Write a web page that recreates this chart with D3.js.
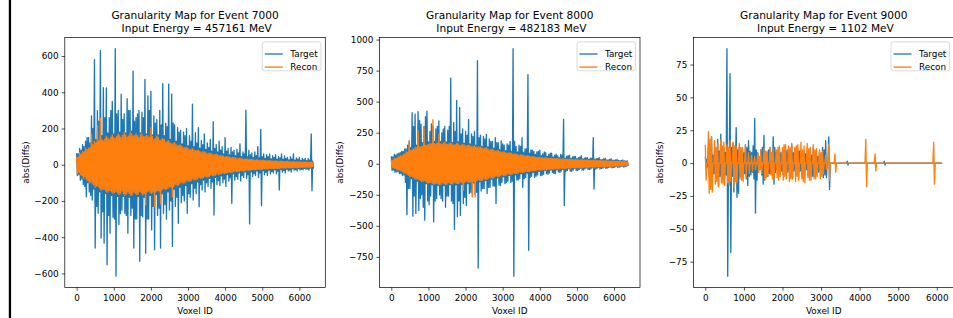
<!DOCTYPE html>
<html>
<head>
<meta charset="utf-8">
<script src="https://cdn.jsdelivr.net/npm/d3@7"></script>
<style>
  body { margin: 0; background: #fff; }
  text { font-family: "DejaVu Sans", sans-serif; }
</style>
</head>
<body>
<svg id="fig" width="953" height="318"></svg>
<script>
const eventIds = ["7000", "8000", "9000"];
const inputEnergies = ["457161", "482183", "1102"];
const seriesNames = ["Target", "Recon"];
const xTicks = [0, 1000, 2000, 3000, 4000, 5000, 6000];
const yTicks7000 = [-600, -400, -200, 0, 200, 400, 600];
const yTicks8000 = [-750, -500, -250, 0, 250, 500, 750, 1000];
const yTicks9000 = [-75, -50, -25, 0, 25, 50, 75];

// Readings per 80-voxel bin: a high and a low value in the first half (A)
// and a second high/low pair in the other half of the bin (B).

// ---- Event 7000
const ev7000TargetHi = [65,90,110,130,150,270,580,298,630,425, 424,260,350,640,300,389,280,365,300,517,
  260,300,290,471,380,405,270,250,300,447, 230,445,389,220,205,190,180,200,160,334,
  177,205,133,170,120,140,237,110,130,100, 150,90,95,80,85,115,70,301,80,65,
  70,100,195,60,55,60,50,55,45,60, 48,40,45,60,38,40,35,35,35,170];
const ev7000TargetLo = [-60,-85,-110,-177,-150,-195,-460,-268,-405,-433, -552,-378,-290,-615,-330,-250,-268,-378,-280,-460,
  -300,-533,-288,-488,-300,-360,-470,-280,-460,-268, -300,-250,-451,-230,-323,-210,-200,-268,-180,-195,
  -160,-232,-140,-150,-120,-130,-278,-110,-115,-100, -120,-90,-213,-85,-80,-90,-70,-75,-327,-65,
  -60,-70,-226,-55,-60,-50,-45,-50,-140,-40, -45,-35,-40,-30,-35,-30,-28,-25,-30,-144];
const ev7000TargetHiB = [60,80,100,150,120,200,140,240,160,260, 175,300,170,280,180,250,175,300,185,240,
  280,175,260,170,300,165,230,165,220,160, 210,140,230,130,180,115,160,105,130,100,
  120,92,110,85,95,75,90,70,80,60, 75,55,70,50,65,45,60,45,55,40,
  50,38,45,35,45,32,40,30,38,30, 35,27,32,25,30,24,28,22,26,20];
const ev7000TargetLoB = [-55,-80,-120,-100,-170,-135,-230,-150,-260,-160, -280,-170,-300,-175,-270,-175,-280,-180,-240,-300,
  -175,-280,-180,-300,-170,-230,-165,-240,-160,-220, -150,-200,-135,-180,-125,-170,-115,-160,-105,-130,
  -95,-110,-85,-100,-75,-95,-70,-88,-62,-80, -55,-72,-50,-66,-45,-60,-40,-55,-38,-50,
  -35,-46,-32,-42,-30,-38,-28,-36,-26,-33, -25,-30,-23,-28,-22,-26,-20,-24,-18,-22];
const ev7000ReconHi = [45,66,72,92,90,170,130,215,255,132, 158,140,165,145,170,150,178,152,180,158,
  172,150,170,155,160,205,140,158,135,145, 125,132,115,122,104,108,92,96,82,88,
  76,80,66,72,60,64,54,58,48,50, 42,45,38,40,34,36,30,32,28,30,
  25,27,23,25,21,23,19,21,18,20, 17,19,16,17,15,16,14,15,13,14];
const ev7000ReconLo = [-50,-55,-76,-80,-102,-105,-125,-120,-142,-135, -152,-142,-158,-148,-165,-145,-168,-150,-170,-152,
  -165,-148,-168,-223,-145,-158,-232,-142,-215,-130, -135,-122,-177,-108,-112,-96,-100,-86,-90,-78,
  -82,-70,-74,-62,-66,-56,-60,-50,-52,-44, -46,-40,-42,-35,-37,-32,-34,-29,-30,-27,
  -28,-24,-25,-22,-23,-20,-21,-19,-20,-17, -18,-16,-17,-15,-16,-14,-15,-13,-14,-12];
const ev7000ReconHiB = [40,58,70,85,96,110,120,132,138,142, 148,152,150,158,160,162,165,158,170,162,
  160,165,155,162,150,156,145,150,138,140, 128,120,118,110,106,100,95,90,85,82,
  78,74,70,66,62,60,56,54,50,47, 44,42,40,37,35,34,31,30,28,27,
  26,25,24,23,22,21,20,19,19,18, 18,17,16,16,15,15,14,14,13,13];
const ev7000ReconLoB = [-42,-60,-68,-88,-95,-112,-118,-130,-135,-145, -145,-150,-152,-155,-158,-160,-162,-160,-165,-158,
  -162,-155,-160,-150,-155,-150,-148,-145,-140,-135, -130,-125,-120,-112,-106,-102,-96,-92,-86,-84,
  -78,-75,-70,-68,-63,-60,-57,-54,-50,-48, -45,-43,-40,-38,-36,-34,-32,-30,-29,-28,
  -27,-26,-25,-24,-22,-21,-20,-20,-19,-18, -17,-17,-16,-15,-15,-14,-14,-13,-13,-12];

// ---- Event 8000
const ev8000TargetHi = [60,75,80,90,100,120,180,411,400,419, 318,300,424,260,300,280,344,250,300,270,
  690,330,510,451,280,260,357,240,260,830, 230,220,237,200,180,210,170,184,150,160,
  180,926,140,150,210,120,718,110,100,95, 110,80,90,75,85,70,65,75,358,60,
  70,55,60,50,65,45,50,45,211,40, 50,35,45,30,40,28,35,25,30,22];
const ev8000TargetLo = [-55,-70,-65,-80,-90,-410,-200,-422,-400,-376, -250,-454,-300,-260,-467,-280,-250,-300,-350,-260,
  -300,-528,-427,-416,-320,-336,-240,-243,-250,-840, -220,-200,-240,-190,-180,-320,-170,-150,-160,-140,
  -150,-905,-130,-120,-190,-110,-697,-100,-110,-90, -95,-85,-80,-75,-70,-80,-65,-60,-336,-55,
  -60,-50,-55,-45,-50,-40,-45,-40,-203,-38, -42,-35,-38,-30,-32,-28,-30,-24,-26,-20];
const ev8000TargetHiB = [55,70,85,100,120,150,130,300,150,350, 170,380,175,320,180,300,180,280,175,300,
  170,260,175,240,165,230,160,220,150,210, 140,200,135,180,125,170,115,160,105,150,
  100,180,95,140,90,120,85,110,75,100, 65,95,60,85,55,78,50,70,45,65,
  42,60,40,55,38,50,36,46,34,42, 32,38,30,34,28,30,26,26,22,22];
const ev8000TargetLoB = [-50,-65,-80,-95,-150,-200,-120,-260,-140,-280, -350,-160,-330,-170,-300,-175,-280,-175,-260,-170,
  -320,-170,-300,-165,-270,-160,-230,-155,-230,-145, -200,-135,-190,-125,-180,-115,-175,-105,-150,-95,
  -140,-90,-130,-80,-120,-75,-110,-70,-100,-62, -95,-55,-85,-50,-78,-48,-70,-44,-65,-40,
  -60,-38,-55,-35,-50,-33,-46,-31,-42,-29, -38,-27,-34,-25,-30,-22,-27,-20,-24,-18];
const ev8000ReconHi = [32,44,50,68,76,97,187,112,132,267, 138,294,150,164,355,160,240,158,172,155,
  166,150,164,148,156,142,150,136,144,130, 134,120,128,110,116,100,106,92,96,84,
  90,78,80,68,72,62,66,56,58,50, 52,46,49,43,45,40,42,36,39,34,
  36,32,34,30,32,28,30,26,28,24, 26,23,24,21,22,19,20,17,18,15];
const ev8000ReconLo = [-30,-38,-52,-58,-76,-85,-106,-108,-126,-128, -144,-135,-155,-150,-165,-155,-166,-152,-168,-150,
  -162,-148,-160,-145,-213,-140,-150,-267,-267,-128, -134,-118,-126,-108,-114,-98,-104,-88,-94,-80,
  -88,-74,-78,-64,-70,-60,-64,-54,-57,-48, -51,-45,-48,-42,-44,-39,-41,-35,-38,-33,
  -35,-31,-33,-29,-31,-27,-29,-25,-27,-23, -25,-22,-23,-20,-21,-18,-19,-16,-17,-14];
const ev8000ReconHiB = [28,40,55,62,80,92,108,118,128,135, 142,148,155,160,162,166,160,165,158,162,
  158,155,160,150,152,146,145,140,138,135, 128,125,120,115,110,104,100,95,90,86,
  84,80,74,72,68,64,60,58,54,52, 50,48,46,44,42,41,39,38,36,35,
  34,33,32,31,30,29,28,27,26,25, 24,23,22,21,20,19,18,17,16,15];
const ev8000ReconLoB = [-32,-42,-50,-64,-74,-92,-100,-116,-122,-134, -140,-150,-152,-158,-160,-162,-165,-160,-162,-158,
  -160,-156,-158,-152,-150,-148,-144,-142,-136,-134, -130,-124,-118,-114,-108,-104,-98,-94,-90,-85,
  -82,-78,-75,-70,-67,-64,-61,-57,-55,-52, -49,-47,-46,-44,-43,-41,-40,-38,-37,-35,
  -34,-33,-32,-31,-30,-29,-28,-27,-26,-25, -24,-23,-22,-21,-20,-19,-18,-17,-16,-15];

// ---- Event 9000 (sparse; flat zero after ~3300 apart from a few spikes)
const ev9000TargetHi = [5,12,20,10,18,22,12,87,68,15, 27,12,10,14,17,8,34,8,10,21,
  8,12,20,8,10,6,9,7,14,8, 10,6,9,7,8,12,6,8,12,17,
  20,0,0,0,0,0,1.5,0,0,0, 0,0,0,0,0,0,0,0,1.5,0,
  0,0,0,0,0,0,0,0,0,0, 0,0,0,0,0,0,0];
const ev9000TargetLo = [-4,-10,-13,-8,-17,-14,-10,-86,-68,-22, -26,-10,-9,-12,-10,-7,-38,-6,-9,-13,
  -10,-8,-16,-5,-8,-9,-7,-6,-10,-6, -7,-8,-6,-9,-5,-10,-5,-6,-11,-11,
  -20,0,0,0,0,0,-1.5,0,0,0, 0,0,0,0,0,0,0,0,-1.5,0,
  0,0,0,0,0,0,0,0,0,0, 0,0,0,0,0,0,0];
const ev9000TargetHiB = [3,0,6,0,9,0,8,0,12,0, 10,0,8,12,9,13,10,0,12,0,
  10,0,12,0,8,0,10,0,8,0, 9,0,7,0,6,0,5,0,10,0,
  0,0,0,0,0,0,0,0,0,0, 0,0,0,0,0,0,0,0,0,0,
  0,0,0,0,0,0,0,0,0,0, 0,0,0,0,0,0,0];
const ev9000TargetLoB = [-3,0,-8,0,-10,0,-9,0,-10,0, -23,0,-8,-17,-9,-12,-13,0,-16,0,
  -8,0,-7,0,-6,0,-7,0,-6,0, -6,0,-5,0,-10,0,-7,0,-9,0,
  0,0,0,0,0,0,0,0,0,0, 0,0,0,0,0,0,0,0,0,0,
  0,0,0,0,0,0,0,0,0,0, 0,0,0,0,0,0,0];
const ev9000ReconHi = [14,24,20,17,15,18,16,14,17,16, 13,15,12,14,8,6,5,7,10,11,
  9,12,11,10,13,12,14,13,15,12, 14,16,13,15,12,14,11,10,9,6,
  14,0,7,0,0,0,0,0,0,0, 0,0,18,0,0,7,0,0,0,0,
  0,0,0,0,0,0,0,0,0,0, 0,0,0,0,16,0,0];
const ev9000ReconLo = [-13,-23,-22,-16,-18,-15,-17,-15,-14,-18, -15,-12,-14,-11,-8,-6,-5,-7,-8,-12,
  -10,-9,-12,-11,-10,-13,-12,-14,-12,-14, -13,-12,-15,-11,-13,-12,-10,-12,-8,-5,
  -13,0,-7,0,0,0,0,0,0,0, 0,0,-18,0,0,-6,0,0,0,0,
  0,0,0,0,0,0,0,0,0,0, 0,0,0,0,-16,0,0];
const ev9000ReconHiB = [0,18,0,12,0,13,0,12,0,13, 0,12,0,0,0,0,0,5,0,9,
  0,8,0,12,0,14,0,12,0,13, 0,10,0,11,0,10,0,8,0,0,
  0,0,0,0,0,0,0,0,0,0, 0,0,0,0,0,0,0,0,0,0,
  0,0,0,0,0,0,0,0,0,0, 0,0,0,0,0,0,0];
const ev9000ReconLoB = [0,-20,0,-14,0,-16,0,-17,0,-14, 0,-13,0,0,0,0,0,-5,0,-11,
  0,-12,0,-13,0,-10,0,-12,0,-10, 0,-14,0,-13,0,-12,0,-10,0,0,
  0,0,0,0,0,0,0,0,0,0, 0,0,0,0,0,0,0,0,0,0,
  0,0,0,0,0,0,0,0,0,0, 0,0,0,0,0,0,0];

const colors = ["#1f77b4", "#ff7f0e"];

function interleave(a, b) {
    let out = [];
    a.forEach((v, i) => out.push(v, b[i]));
    return out;
}

// one high and one low reading per 40 voxels -> [voxel, value] points
function toPoints(hi, lo) {
    let step = 20, pts = [];
    hi.forEach((h, i) => {
        pts.push([2 * i * step, h]);
        pts.push([(2 * i + 1) * step, lo[i]]);
    });
    return pts;
}

function series(hiA, hiB, loA, loB) {
    return toPoints(interleave(hiA, hiB), interleave(loA, loB));
}

const panels = [
    {event: eventIds[0], energy: inputEnergies[0], yTicks: yTicks7000, left: 64.8,
     series: [series(ev7000TargetHi, ev7000TargetHiB, ev7000TargetLo, ev7000TargetLoB),
              series(ev7000ReconHi, ev7000ReconHiB, ev7000ReconLo, ev7000ReconLoB)]},
    {event: eventIds[1], energy: inputEnergies[1], yTicks: yTicks8000, left: 379.5,
     series: [series(ev8000TargetHi, ev8000TargetHiB, ev8000TargetLo, ev8000TargetLoB),
              series(ev8000ReconHi, ev8000ReconHiB, ev8000ReconLo, ev8000ReconLoB)]},
    {event: eventIds[2], energy: inputEnergies[2], yTicks: yTicks9000, left: 693.5,
     series: [series(ev9000TargetHi, ev9000TargetHiB, ev9000TargetLo, ev9000TargetLoB),
              series(ev9000ReconHi, ev9000ReconHiB, ev9000ReconLo, ev9000ReconLoB)]}
];

const svg = d3.select("#fig");
svg.append("rect").attr("width", 953).attr("height", 318).attr("fill", "#fff");
// dark bar at the very left of the screenshot
svg.append("rect").attr("x", 8.8).attr("y", 0).attr("width", 2.3).attr("height", 318).attr("fill", "#000");

const axTop = 37.4, axW = 260.5, axH = 250.1;
const tickFont = 8.83, titleFont = 10.6;
const tickLen = 3.1, lineW = 1.33, spineW = 0.7;

panels.forEach(p => {
    let g = svg.append("g").attr("transform", `translate(${p.left},${axTop})`);

    let all = p.series[0].concat(p.series[1]);
    let [x0, x1] = d3.extent(all, d => d[0]);
    let [y0, y1] = d3.extent(all, d => d[1]);
    let mx = (x1 - x0) * 0.05, my = (y1 - y0) * 0.05;

    let x = d3.scaleLinear().domain([x0 - mx, x1 + mx]).range([0, axW]);
    let y = d3.scaleLinear().domain([y0 - my, y1 + my]).range([axH, 0]);

    let line = d3.line().x(d => x(d[0])).y(d => y(d[1]));

    p.series.forEach((s, k) => {
        g.append("path")
            .attr("d", line(s))
            .attr("fill", "none")
            .attr("stroke", colors[k])
            .attr("stroke-width", lineW)
            .attr("stroke-linejoin", "round");
    });

    // axes
    let gx = g.append("g")
        .attr("transform", `translate(0,${axH})`)
        .call(d3.axisBottom(x).tickValues(xTicks).tickFormat(d3.format("d"))
            .tickSize(tickLen).tickPadding(tickLen));
    let gy = g.append("g")
        .call(d3.axisLeft(y).tickValues(p.yTicks).tickFormat(d3.format("d"))
            .tickSize(tickLen).tickPadding(tickLen));

    [gx, gy].forEach(a => {
        a.select(".domain").remove();
        a.attr("font-size", tickFont).attr("font-family", "DejaVu Sans");
        a.selectAll("line").attr("stroke", "#000").attr("stroke-width", spineW);
        a.selectAll("text").attr("fill", "#000");
    });
    gx.selectAll("text").attr("dy", "0.85em");

    g.append("rect")
        .attr("width", axW).attr("height", axH)
        .attr("fill", "none").attr("stroke", "#000").attr("stroke-width", spineW);

    // axis labels
    g.append("text")
        .attr("x", axW / 2).attr("y", axH + 26.6)
        .attr("text-anchor", "middle").attr("font-size", tickFont)
        .text("Voxel ID");

    let tb = gy.node().getBBox();
    g.append("text")
        .attr("transform", `translate(${tb.x - 5.6},${axH / 2}) rotate(-90)`)
        .attr("text-anchor", "middle").attr("font-size", tickFont)
        .text("abs(Diffs)");

    // title, two lines
    let t = g.append("text")
        .attr("text-anchor", "middle").attr("font-size", titleFont)
        .style("white-space", "pre");
    t.append("tspan").attr("x", axW / 2).attr("y", -5.3 - titleFont * 1.2)
        .text("Granularity Map for Event " + p.event);
    t.append("tspan").attr("x", axW / 2).attr("y", -5.3)
        .text(" Input Energy = " + p.energy + " MeV");

    // legend
    let lg = g.append("g");
    let box = lg.append("rect")
        .attr("fill", "#fff").attr("fill-opacity", 0.8)
        .attr("stroke", "#d6d6d6").attr("stroke-width", 0.9)
        .attr("rx", 2.5).attr("ry", 2.5);
    let textW = 0;
    seriesNames.forEach((name, k) => {
        let cy = 12.2 + k * 13.1;
        lg.append("line")
            .attr("x1", 2.5).attr("x2", 20.5).attr("y1", cy).attr("y2", cy)
            .attr("stroke", colors[k]).attr("stroke-width", lineW);
        let tx = lg.append("text")
            .attr("x", 28).attr("y", cy).attr("dy", "0.35em")
            .attr("font-size", tickFont).text(name);
        textW = Math.max(textW, tx.node().getComputedTextLength());
    });
    let bw = 28 + textW + 3.3, bh = 29;
    box.attr("width", bw).attr("height", bh);
    lg.attr("transform", `translate(${axW - 4.4 - bw},${4.4})`);
});
</script>
</body>
</html>
